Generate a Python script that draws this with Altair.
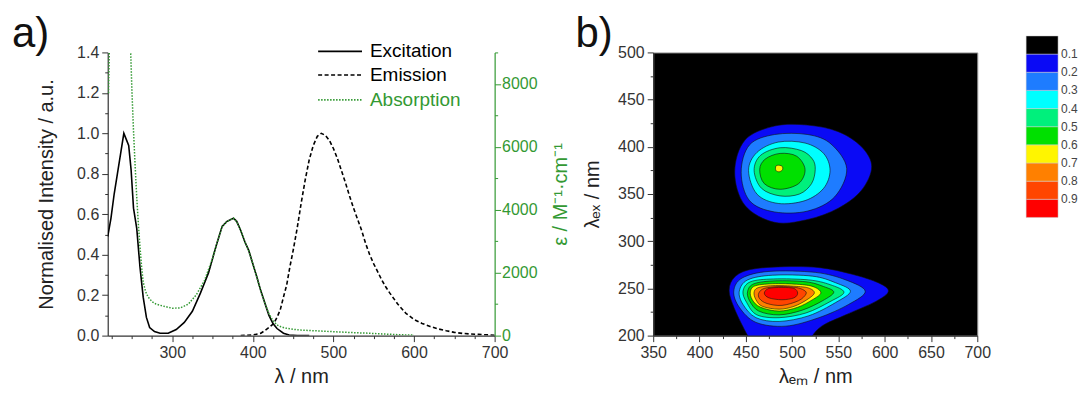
import altair as alt
import pandas as pd

# ---------------- Panel a) data ----------------
exc_wl = [220, 224, 228, 232, 236, 240, 243, 246, 249, 252, 256, 260, 264, 268, 272, 278, 285, 295,
          305, 315, 325, 335, 345, 355, 362, 368, 376, 380, 385, 390, 395, 400, 405, 410, 415, 420,
          425, 430, 438, 445, 455, 470]
exc_val = [0.49, 0.58, 0.70, 0.80, 0.90, 1.00, 0.97, 0.94, 0.82, 0.63, 0.53, 0.34, 0.19, 0.09, 0.04,
           0.02, 0.012, 0.012, 0.03, 0.065, 0.12, 0.21, 0.31, 0.45, 0.54, 0.565, 0.58, 0.565, 0.52,
           0.465, 0.42, 0.355, 0.29, 0.22, 0.16, 0.10, 0.06, 0.035, 0.012, 0.003, 0.0, 0.0]

em_wl = [385, 400, 410, 415, 420, 426, 430, 434, 438, 442, 446, 450, 455, 460, 465, 470, 475, 480,
         485, 490, 495, 500, 505, 510, 515, 520, 525, 530, 535, 540, 545, 550, 555, 560, 565, 570,
         580, 590, 600, 610, 620, 630, 640, 650, 660, 670, 680, 690, 700]
em_val = [0.0, 0.003, 0.012, 0.025, 0.04, 0.06, 0.09, 0.127, 0.19, 0.25, 0.34, 0.42, 0.53, 0.655,
          0.77, 0.87, 0.94, 0.985, 1.0, 0.99, 0.965, 0.925, 0.875, 0.815, 0.755, 0.69, 0.63, 0.575,
          0.52, 0.455, 0.40, 0.355, 0.315, 0.275, 0.24, 0.21, 0.155, 0.11, 0.08, 0.06, 0.045, 0.033,
          0.024, 0.016, 0.011, 0.008, 0.006, 0.004, 0.002]

abs_wl = [221, 223, 230, 240, 247, 248.5, 250, 252, 254, 256, 258, 260, 262, 264, 267, 270, 275, 280,
          290, 300, 310, 320, 330, 340, 350, 355, 362, 368, 376, 380, 385, 390, 395, 400, 405, 410,
          415, 420, 425, 430, 435, 440, 450, 460, 480, 500, 520, 540, 560, 580, 600]
abs_eps = [7700, 10500, 13000, 13000, 11000, 9000, 7800, 6500, 5400, 4400, 3550, 2820, 2200, 1700,
           1400, 1230, 1080, 1000, 930, 870, 880, 1000, 1300, 1750, 2450, 2900, 3470, 3630, 3730,
           3630, 3340, 2990, 2700, 2280, 1860, 1410, 1030, 700, 470, 340, 280, 240, 200, 175, 150,
           125, 100, 80, 55, 30, 15]

legend_labels = ["Excitation", "Emission", "Absorption"]

# ---------------- Panel b) contour data (level boundaries, nm) ----------------
up_1 = [(438, 373), (449, 407), (481, 422), (517, 423), (550, 416), (575, 400), (586, 379), (575, 354),
        (550, 335), (517, 323), (481, 320), (449, 338)]
up_2 = [(445, 373), (454, 402), (481, 413), (517, 413), (542, 403), (559, 377), (546, 347), (517, 332),
        (481, 331), (454, 343)]
up_3 = [(453, 375), (462, 394), (485, 405), (514, 404), (534, 393), (541, 375), (534, 356), (514, 343),
        (485, 340), (462, 350)]
up_4 = [(459, 375), (466, 391), (487, 399), (510, 396), (522, 387), (525, 376), (521, 361), (508, 350),
        (487, 348), (467, 356)]
up_5 = [(465, 376), (471, 387), (487, 393), (505, 390), (514, 376), (507, 361), (487, 355), (470, 361)]
up_6 = [(482.5, 379.5), (486, 380.5), (489.5, 379), (489.5, 375.5), (486, 373.5), (482.5, 375)]

lo_1 = [(432, 248), (438, 262), (455, 270), (490, 273), (530, 272), (565, 265), (593, 256), (604, 247),
        (590, 236), (558, 222), (532, 210), (520, 197), (514, 185), (462, 185), (452, 200), (438, 228)]
lo_2 = [(437, 247), (446, 261), (475, 268), (525, 267), (558, 259), (579, 247), (561, 233), (529, 219),
        (493, 210), (461, 214), (443, 230)]
lo_3 = [(443, 247), (452, 259), (479, 264), (522, 263), (547, 256), (563, 247), (547, 235), (518, 221),
        (486, 215), (461, 219), (447, 233)]
lo_4 = [(447, 247), (455, 257), (480, 260), (518, 259), (541, 254), (556, 246), (541, 236), (515, 224),
        (486, 219), (462, 222), (451, 235)]
lo_5 = [(452, 247), (459, 255), (482, 258), (515, 257), (534, 252), (545, 246), (533, 237), (511, 227),
        (486, 222), (464, 226), (454, 237)]
lo_6 = [(455, 247), (461, 253), (482, 255), (511, 254), (525, 251), (531, 245), (522, 238), (506, 230),
        (486, 226), (466, 230), (457, 238)]
lo_7 = [(459, 246), (464, 251), (482, 253), (507, 252), (519, 250), (524, 245), (516, 238), (502, 231),
        (486, 228), (468, 231), (461, 238)]
lo_8 = [(464, 245), (470, 250), (486, 252), (504, 251), (513, 248), (515, 244), (507, 237), (489, 232),
        (473, 234), (465, 239)]
lo_9 = [(470, 245), (475, 250), (489, 251), (502, 250), (506, 245), (502, 240), (489, 238), (475, 240)]

# colour bar: levels 0.1 ... 0.9 (stored negated so that the vertical bar runs black -> red downward)
level_thresholds = [-0.9, -0.8, -0.7, -0.6, -0.5, -0.4, -0.3, -0.2, -0.1]
level_colors = ["#FF0000", "#FF4500", "#FF8000", "#FFF500", "#00E000", "#00F07C",
                "#00FFFF", "#1E7CFF", "#0A0AF5", "#000000"]

# ---------------- build tables ----------------
exc_df = pd.DataFrame({"wl": exc_wl, "val": exc_val})
em_df = pd.DataFrame({"wl": em_wl, "val": em_val})
abs_df = pd.DataFrame({"wl": abs_wl, "eps": abs_eps})

polys = [("u1", 1, up_1), ("u2", 2, up_2), ("u3", 3, up_3), ("u4", 4, up_4), ("u5", 5, up_5),
         ("u6", 6, up_6), ("l1", 1, lo_1), ("l2", 2, lo_2), ("l3", 3, lo_3), ("l4", 4, lo_4),
         ("l5", 5, lo_5), ("l6", 6, lo_6), ("l7", 7, lo_7), ("l8", 8, lo_8), ("l9", 9, lo_9)]
rows = []
for name, lev, pts in polys:
    for i, (x, y) in enumerate(pts):
        rows.append({"poly": name, "lvl": lev, "level": -(lev / 10 + 0.05), "i": i, "x": x, "y": y})
cdf = pd.DataFrame(rows)

FONT = "Liberation Sans"
GREEN = "#339933"

# ---------------- Panel a) ----------------
xax_a = alt.Axis(values=list(range(225, 701, 25)), title="λ / nm", titlePadding=6,
                 labelExpr="datum.value % 100 === 0 ? datum.label : ''",
                 tickSize={"condition": {"test": "datum.value % 100 === 0", "value": 6}, "value": 3})
xenc_a = alt.X("wl:Q", scale=alt.Scale(domain=[220, 700], nice=False, zero=False), axis=xax_a)

yax_a = alt.Axis(values=[round(i * 0.1, 1) for i in range(15)], title="Normalised Intensity / a.u.",
                 titlePadding=20, format=".1f",
                 labelExpr="round(datum.value * 10) % 2 === 0 ? datum.label : ''",
                 tickSize={"condition": {"test": "round(datum.value * 10) % 2 === 0", "value": 6}, "value": 3})
yenc_a = alt.Y("val:Q", scale=alt.Scale(domain=[0, 1.4], nice=False), axis=yax_a)

exc = alt.Chart(exc_df).mark_line(color="black", strokeWidth=1.6, clip=True).encode(x=xenc_a, y=yenc_a)
em = alt.Chart(em_df).mark_line(color="black", strokeWidth=1.6, strokeDash=[4, 2.5], clip=True).encode(
    x=xenc_a, y=yenc_a)

leg_rows = [(-1, "black", [1, 0]), (22.6, "black", [4, 2.5]), (47.6, GREEN, [1.5, 1.5])]
leg_layers = []
for (yy, col, dash), lab in zip(leg_rows, legend_labels):
    ldf = pd.DataFrame({"t": [lab]})
    leg_layers.append(alt.Chart(ldf).mark_rule(color=col, strokeWidth=1.6, strokeDash=dash).encode(
        x=alt.value(211), x2=alt.value(255), y=alt.value(yy)))
    leg_layers.append(alt.Chart(ldf).mark_text(align="left", baseline="middle", fontSize=19, font=FONT,
                                               color=col).encode(
        x=alt.value(263), y=alt.value(yy), text="t:N"))

label_a = alt.Chart(pd.DataFrame({"t": ["a)"]})).mark_text(
    align="left", baseline="alphabetic", fontSize=42, font=FONT, color="#111").encode(
    x=alt.value(-96), y=alt.value(-5), text="t:N")

inner_a = alt.layer(exc, em, *leg_layers, label_a)

yax_eps = alt.Axis(orient="right", values=list(range(0, 9001, 1000)), title="ε / M⁻¹·cm⁻¹",
                   titleAngle=270, titleBaseline="top", titlePadding=13, labelPadding=1,
                   labelExpr="datum.value % 2000 === 0 ? datum.label : ''", format="d",
                   tickSize={"condition": {"test": "datum.value % 2000 === 0", "value": 6}, "value": 3},
                   domainColor=GREEN, tickColor=GREEN, labelColor=GREEN, titleColor=GREEN)
absorb = alt.Chart(abs_df).mark_line(color=GREEN, strokeWidth=1.5, strokeDash=[1.5, 1.5], clip=True).encode(
    x=xenc_a, y=alt.Y("eps:Q", scale=alt.Scale(domain=[0, 9000], nice=False), axis=yax_eps))

panel_a = alt.layer(inner_a, absorb).resolve_scale(y="independent").properties(
    width=388, height=284, view=alt.ViewBackground(stroke="transparent"))

# ---------------- Panel b) ----------------
xax_b = alt.Axis(values=list(range(350, 701, 25)), title="λₑₘ / nm", titlePadding=6,
                 labelExpr="datum.value % 50 === 0 ? datum.label : ''",
                 tickSize={"condition": {"test": "datum.value % 50 === 0", "value": 6}, "value": 3})
yax_b = alt.Axis(values=list(range(200, 501, 25)), title="λₑₓ / nm", titlePadding=15,
                 labelExpr="datum.value % 50 === 0 ? datum.label : ''",
                 tickSize={"condition": {"test": "datum.value % 50 === 0", "value": 6}, "value": 3})
xenc_b = alt.X("x:Q", scale=alt.Scale(domain=[350, 700], nice=False, zero=False), axis=xax_b)
yenc_b = alt.Y("y:Q", scale=alt.Scale(domain=[200, 500], nice=False, zero=False), axis=yax_b)
color_b = alt.Color("level:Q",
                    scale=alt.Scale(type="threshold", domain=level_thresholds, range=level_colors),
                    legend=alt.Legend(type="gradient", direction="vertical", orient="none",
                                      legendX=374, legendY=-16.5, gradientLength=182,
                                      gradientThickness=32, title=None, labelFontSize=12,
                                      labelFont=FONT, labelColor="#444", labelOffset=3,
                                      labelOverlap=False,
                                      labelExpr="isFinite(datum.value) ? format(-datum.value, '.1f') : ''",
                                      gradientStrokeColor="#cccccc", gradientStrokeWidth=0.5))

contour_layers = []
for k in range(1, 10):
    contour_layers.append(
        alt.Chart(cdf).transform_filter(alt.datum.lvl == k).mark_line(
            filled=True, interpolate="cardinal-closed", stroke="#111111", strokeWidth=0.6, clip=True
        ).encode(x=xenc_b, y=yenc_b, order="i:Q", detail="poly:N", color=color_b)
    )

label_b = alt.Chart(pd.DataFrame({"t": ["b)"]})).mark_text(
    align="left", baseline="alphabetic", fontSize=42, font=FONT, color="#111").encode(
    x=alt.value(-78), y=alt.value(-5), text="t:N")

panel_b = alt.layer(*contour_layers, label_b).properties(
    width=325, height=284, view=alt.ViewBackground(fill="black", stroke="#999999"))

chart = alt.hconcat(panel_a, panel_b, spacing=3).resolve_scale(color="independent").resolve_legend(
    color="independent").configure(
    background="white", padding={"left": 3, "top": 4, "right": 0, "bottom": 0}).configure_axis(
    grid=False, domainColor="#333333", tickColor="#333333", labelColor="#333333", titleColor="#222222",
    labelFont=FONT, titleFont=FONT, labelFontSize=16, titleFontSize=20, titleFontWeight="normal",
    labelPadding=3, domainWidth=1.2, labelFlush=False).configure_view(stroke="transparent")

chart.save("out.html", embed_options={"renderer": "svg", "actions": False})
